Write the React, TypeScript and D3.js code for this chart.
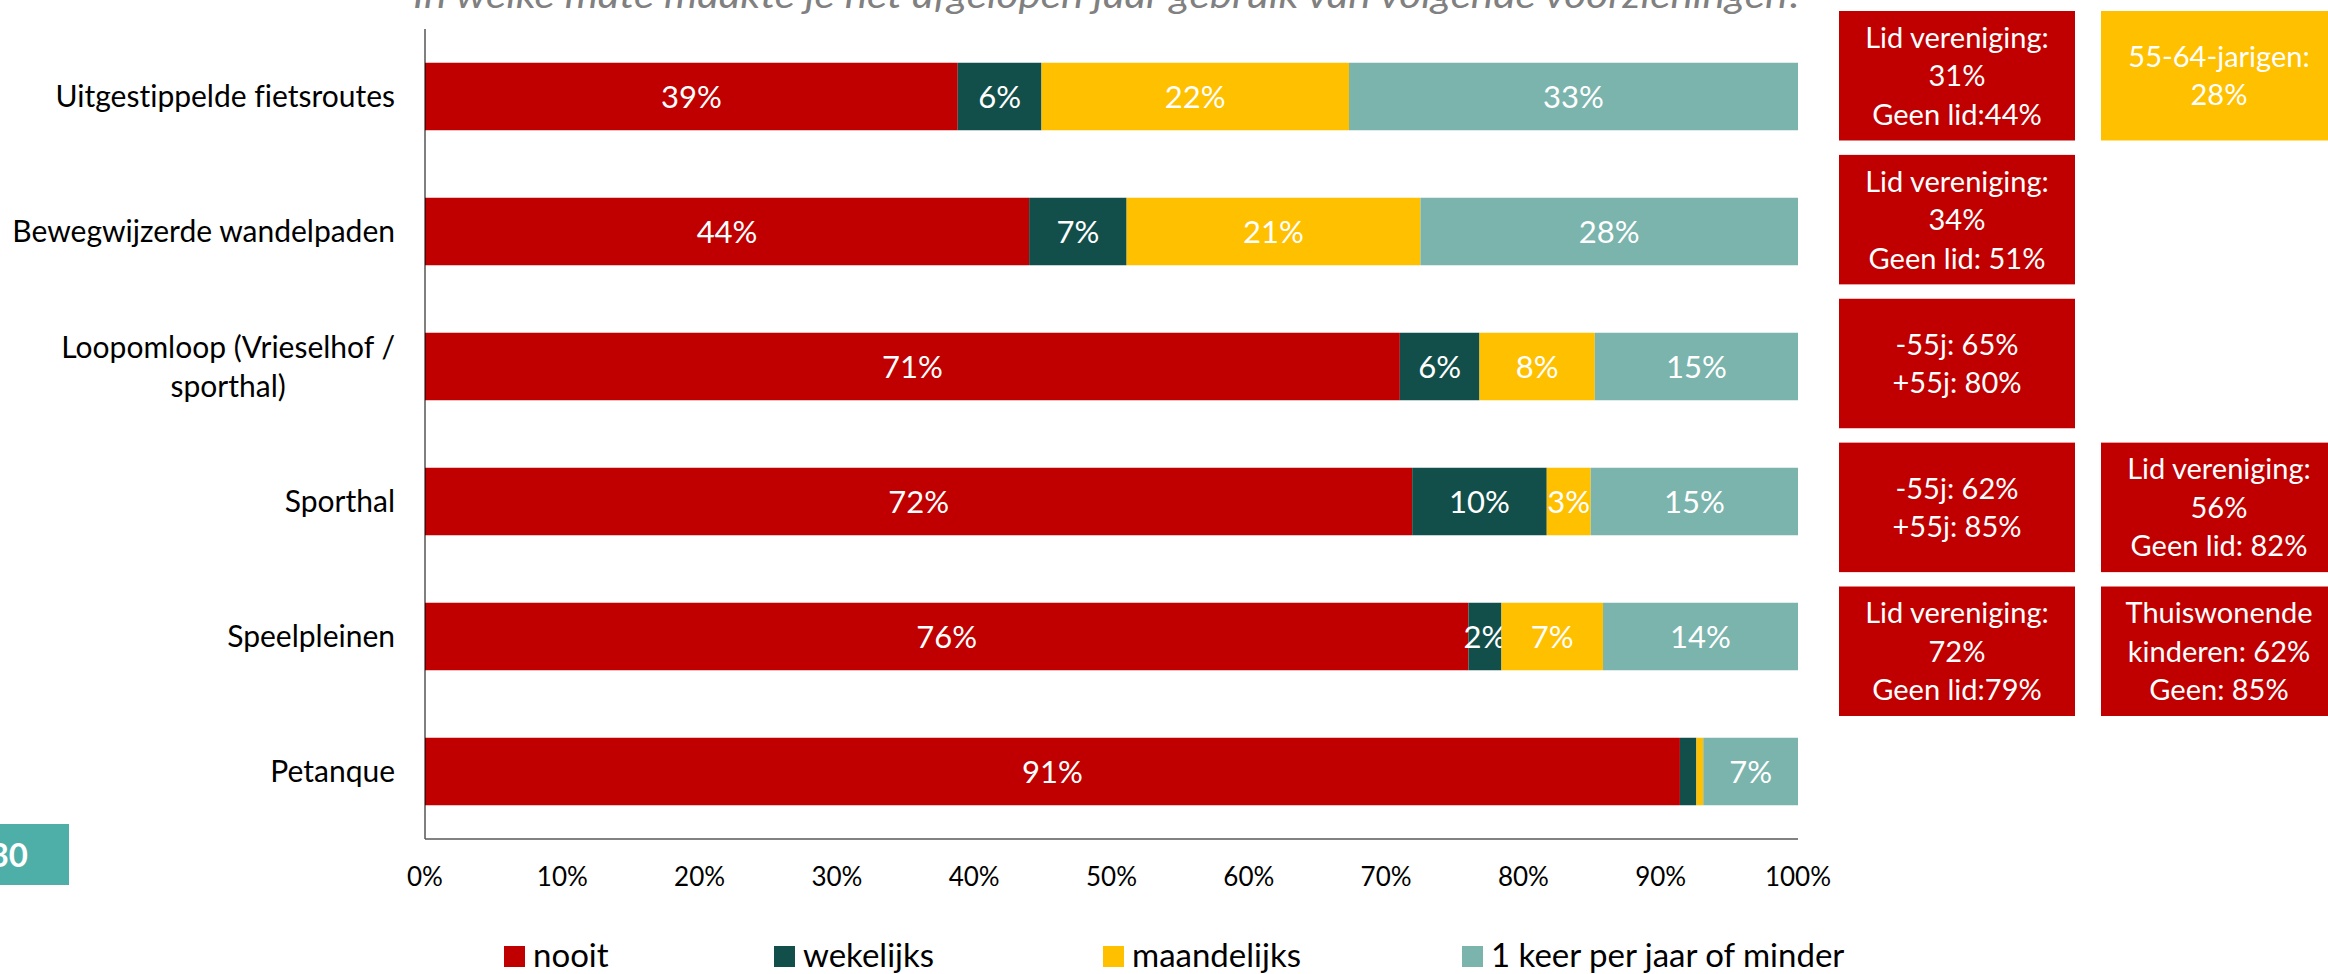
import { useEffect, useRef } from 'react';
import * as d3 from 'd3';

const categories = [
  'Uitgestippelde fietsroutes',
  'Bewegwijzerde wandelpaden',
  'Loopomloop (Vrieselhof / sporthal)',
  'Sporthal',
  'Speelpleinen',
  'Petanque',
];
const categoryLines = [
  ['Uitgestippelde fietsroutes'],
  ['Bewegwijzerde wandelpaden'],
  ['Loopomloop (Vrieselhof /', 'sporthal)'],
  ['Sporthal'],
  ['Speelpleinen'],
  ['Petanque'],
];

const seriesNames = ['nooit', 'wekelijks', 'maandelijks', '1 keer per jaar of minder'];
const nooit = [38.8, 44.0, 71.0, 71.9, 76.0, 91.4];
const wekelijks = [6.1, 7.1, 5.8, 9.8, 2.4, 1.2];
const maandelijks = [22.4, 21.4, 8.4, 3.2, 7.4, 0.5];
const jaarlijks = [32.7, 27.5, 14.8, 15.1, 14.2, 6.9];

const xTicks = [0, 10, 20, 30, 40, 50, 60, 70, 80, 90, 100];

const title = 'In welke mate maakte je het afgelopen jaar gebruik van volgende voorzieningen?';

// opmerkingen naast de balken (kolom 1 en kolom 2)
const notesCol1 = [
  ['Lid vereniging:', '31%', 'Geen lid:44%'],
  ['Lid vereniging:', '34%', 'Geen lid: 51%'],
  ['-55j: 65%', '+55j: 80%'],
  ['-55j: 62%', '+55j: 85%'],
  ['Lid vereniging:', '72%', 'Geen lid:79%'],
];
const notesCol2 = [
  { row: 0, serie: 'maandelijks', lines: ['55-64-jarigen:', '28%'] },
  { row: 3, serie: 'nooit', lines: ['Lid vereniging:', '56%', 'Geen lid: 82%'] },
  { row: 4, serie: 'nooit', lines: ['Thuiswonende', 'kinderen: 62%', 'Geen: 85%'] },
];

const pageNumber = '30';

const colors: Record<string, string> = {
  nooit: '#C00000',
  wekelijks: '#134F4A',
  maandelijks: '#FFC000',
  '1 keer per jaar of minder': '#7AB4AC',
};

const FONT = "Lato, 'Open Sans', sans-serif";

const App = () => {
  const svgRef = useRef<SVGSVGElement>(null);
  const W = 2328;
  const H = 974;

  useEffect(() => {
    const svg = d3.select(svgRef.current);
    svg.selectAll('*').remove();

    const rows = categories.map((c, i) => ({
      cat: c,
      nooit: nooit[i],
      wekelijks: wekelijks[i],
      maandelijks: maandelijks[i],
      '1 keer per jaar of minder': jaarlijks[i],
    }));

    const x = d3.scaleLinear().domain([0, 100]).range([425, 1798]);
    const y = d3.scaleBand().domain(categories).range([29, 839]).paddingInner(0.5).paddingOuter(0.25);

    // titel (bovenaan half afgesneden)
    svg.append('text')
      .attr('x', 413)
      .attr('y', 8)
      .attr('font-family', FONT)
      .attr('font-style', 'italic')
      .attr('font-size', 36)
      .attr('fill', '#808080')
      .attr('textLength', 1391)
      .attr('lengthAdjust', 'spacingAndGlyphs')
      .text(title);

    const stack = d3.stack<any>().keys(seriesNames);
    const stacked = stack(rows);

    const g = svg.append('g');
    stacked.forEach((layer) => {
      const key = layer.key;
      const lg = g.append('g');
      lg.selectAll('rect')
        .data(layer)
        .join('rect')
        .attr('x', (d) => x(d[0]))
        .attr('y', (d) => y(d.data.cat as string)!)
        .attr('width', (d) => x(d[1]) - x(d[0]))
        .attr('height', y.bandwidth())
        .attr('fill', colors[key]);

      lg.selectAll('text')
        .data(layer.filter((d) => d[1] - d[0] >= 2))
        .join('text')
        .attr('x', (d) => (x(d[0]) + x(d[1])) / 2)
        .attr('y', (d) => y(d.data.cat as string)! + y.bandwidth() / 2)
        .attr('dy', '0.36em')
        .attr('text-anchor', 'middle')
        .attr('font-family', FONT)
        .attr('font-size', 31)
        .attr('fill', '#ffffff')
        .text((d) => `${Math.round(d[1] - d[0])}%`);
    });

    // assen
    svg.append('line')
      .attr('x1', x(0)).attr('x2', x(0))
      .attr('y1', 29).attr('y2', 839)
      .attr('stroke', '#000').attr('stroke-width', 1);
    svg.append('line')
      .attr('x1', x(0)).attr('x2', x(100))
      .attr('y1', 839).attr('y2', 839)
      .attr('stroke', '#595959').attr('stroke-width', 1.5);

    // x-as labels
    svg.append('g')
      .selectAll('text')
      .data(xTicks)
      .join('text')
      .attr('x', (d) => x(d))
      .attr('y', 877)
      .attr('dy', '0.36em')
      .attr('text-anchor', 'middle')
      .attr('font-family', FONT)
      .attr('font-size', 26)
      .attr('fill', '#000')
      .text((d) => `${d}%`);

    // categorie labels
    const cl = svg.append('g').style('font-variant-ligatures', 'none');
    categories.forEach((c, i) => {
      const lines = categoryLines[i];
      const cy = y(c)! + y.bandwidth() / 2;
      const lh = 39;
      const t = cl.append('text')
        .attr('font-family', FONT)
        .attr('font-size', 30)
        .attr('fill', '#000')
        .attr('text-anchor', 'middle');
      lines.forEach((ln, j) => {
        t.append('tspan')
          .attr('x', 0)
          .attr('y', cy + (j - (lines.length - 1) / 2) * lh)
          .attr('dy', '0.36em')
          .text(ln);
      });
      // rechts uitlijnen, regels onderling gecentreerd
      const bb = (t.node() as SVGTextElement).getBBox();
      const cx = 395 - bb.width / 2;
      t.selectAll('tspan').attr('x', cx);
    });

    // opmerkingen
    const noteRows = d3.range(notesCol1.length);
    const ny = d3.scaleBand<number>().domain(noteRows).range([11, 716]).paddingInner(0.1);
    const boxW = 236;
    const drawNote = (bx: number, row: number, fill: string, lines: string[]) => {
      const ng = svg.append('g');
      ng.append('rect')
        .attr('x', bx)
        .attr('y', ny(row)!)
        .attr('width', boxW)
        .attr('height', ny.bandwidth())
        .attr('fill', fill);
      const cy = ny(row)! + ny.bandwidth() / 2;
      const t = ng.append('text')
        .attr('font-family', FONT)
        .attr('font-size', 29)
        .attr('fill', '#fff')
        .attr('text-anchor', 'middle');
      lines.forEach((ln, j) => {
        t.append('tspan')
          .attr('x', bx + boxW / 2)
          .attr('y', cy + (j - (lines.length - 1) / 2) * 38.5)
          .attr('dy', '0.36em')
          .text(ln);
      });
    };
    notesCol1.forEach((lines, i) => drawNote(1839, i, colors.nooit, lines));
    notesCol2.forEach((n) => drawNote(2101, n.row, colors[n.serie], n.lines));

    // legende
    const legendX = [504, 774, 1103, 1462];
    const lgd = svg.append('g');
    seriesNames.forEach((s, i) => {
      lgd.append('rect')
        .attr('x', legendX[i])
        .attr('y', 946)
        .attr('width', 21)
        .attr('height', 21)
        .attr('fill', colors[s]);
      lgd.append('text')
        .attr('x', legendX[i] + 29)
        .attr('y', 955)
        .attr('dy', '0.36em')
        .attr('font-family', FONT)
        .attr('font-size', 33)
        .attr('fill', '#000')
        .text(s);
    });

    // paginanummer
    svg.append('rect')
      .attr('x', 0).attr('y', 824)
      .attr('width', 69).attr('height', 61)
      .attr('fill', '#4EAFA9');
    svg.append('text')
      .attr('x', 28)
      .attr('y', 867)
      .attr('text-anchor', 'end')
      .attr('font-family', FONT)
      .attr('font-weight', 'bold')
      .attr('font-size', 33)
      .attr('fill', '#fff')
      .text(pageNumber);
  }, []);

  return (
    <svg
      ref={svgRef}
      width={W}
      height={H}
      style={{ position: 'absolute', left: 0, top: 0, background: '#fff' }}
    />
  );
};

export default App;
